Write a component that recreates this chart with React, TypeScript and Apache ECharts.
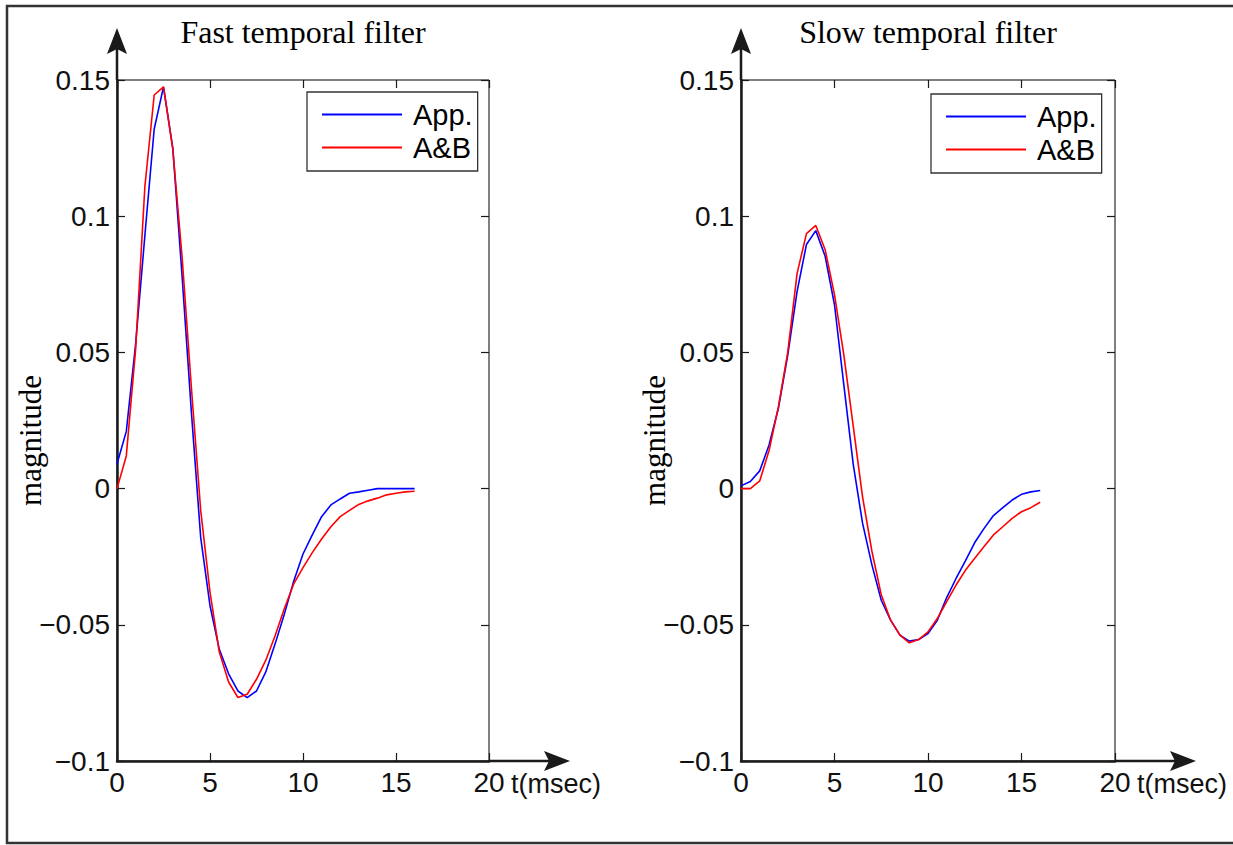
import React, { useEffect, useRef } from 'react';
import * as echarts from 'echarts';

// time samples (msec)
const tSamples = [0, 0.5, 1, 1.5, 2, 2.5, 3, 3.5, 4, 4.5, 5, 5.5, 6, 6.5, 7, 7.5, 8, 8.5, 9, 9.5, 10, 10.5, 11, 11.5, 12, 12.5, 13, 13.5, 14, 14.5, 15, 15.5, 16];

const fastApp = [0.009, 0.021, 0.053, 0.093, 0.132, 0.1475, 0.125, 0.078, 0.028, -0.018, -0.043, -0.059, -0.068, -0.0743, -0.0767, -0.0743, -0.0673, -0.057, -0.046, -0.034, -0.024, -0.017, -0.0103, -0.006, -0.0038, -0.0017, -0.0012, -0.0006, 0, 0, 0, 0, 0];
const fastAB = [0, 0.012, 0.051, 0.111, 0.1445, 0.1475, 0.1245, 0.085, 0.037, -0.008, -0.038, -0.06, -0.071, -0.0767, -0.0755, -0.07, -0.063, -0.054, -0.044, -0.035, -0.029, -0.0235, -0.0185, -0.014, -0.0103, -0.008, -0.0058, -0.0045, -0.0035, -0.0023, -0.0017, -0.0012, -0.001];
const slowApp = [0.001, 0.0026, 0.0065, 0.016, 0.0295, 0.049, 0.0724, 0.0896, 0.0947, 0.0853, 0.0675, 0.038, 0.009, -0.0127, -0.028, -0.041, -0.0483, -0.0538, -0.056, -0.0554, -0.0532, -0.0483, -0.04, -0.033, -0.0265, -0.0198, -0.0146, -0.0099, -0.007, -0.0042, -0.0021, -0.0012, -0.0007];
const slowAB = [0, 0, 0.0028, 0.014, 0.03, 0.05, 0.079, 0.0936, 0.0966, 0.0877, 0.0712, 0.049, 0.023, -0.003, -0.023, -0.039, -0.0483, -0.0538, -0.0566, -0.0554, -0.0526, -0.0477, -0.0415, -0.0354, -0.03, -0.0256, -0.0213, -0.017, -0.014, -0.0109, -0.0085, -0.007, -0.005];

const seriesNames = ['App.', 'A&B'];
const panelTitles = ['Fast temporal filter', 'Slow temporal filter'];
const yAxisTitle = 'magnitude';
const xAxisTitle = 't(msec)';
const xRange = [0, 20, 5];
const yRange = [-0.1, 0.15, 0.05];

const SANS = 'Liberation Sans, Arial, sans-serif';
const SERIF = 'Liberation Serif, Times New Roman, serif';
const INK = '#1a1a1a';

const zip = (xs: number[], ys: number[]) => xs.map((x, i) => [x, ys[i]]);

const fmtY = (v: number) => {
  const r = Math.round(v * 1000) / 1000;
  if (r === 0) return '0';
  return String(r).replace('-', '\u2212');
};

function buildOption() {
  const grids = [
    { left: 117, top: 80, width: 372, height: 681 },
    { left: 741, top: 80, width: 374, height: 681 },
  ];
  const xAxes: any[] = [];
  const yAxes: any[] = [];
  const tick = { show: true, inside: true, length: 8, lineStyle: { color: INK, width: 1.2 } };
  grids.forEach((_, gi) => {
    xAxes.push({
      type: 'value', gridIndex: gi, min: xRange[0], max: xRange[1], interval: xRange[2],
      position: 'bottom',
      axisLine: { show: true, onZero: false, lineStyle: { color: INK, width: 2.5 } },
      axisTick: tick,
      axisLabel: { show: true, fontSize: 28, fontFamily: SANS, color: '#111', margin: 7 },
      splitLine: { show: false },
    });
    xAxes.push({
      type: 'value', gridIndex: gi, min: xRange[0], max: xRange[1], interval: xRange[2],
      position: 'top',
      axisLine: { show: false, onZero: false },
      axisTick: tick,
      axisLabel: { show: false },
      splitLine: { show: false },
    });
    yAxes.push({
      type: 'value', gridIndex: gi, min: yRange[0], max: yRange[1], interval: yRange[2],
      position: 'left',
      axisLine: { show: true, onZero: false, lineStyle: { color: INK, width: 2.5 } },
      axisTick: tick,
      axisLabel: { show: true, fontSize: 28, fontFamily: SANS, color: '#111', margin: 7, formatter: fmtY },
      splitLine: { show: false },
    });
    yAxes.push({
      type: 'value', gridIndex: gi, min: yRange[0], max: yRange[1], interval: yRange[2],
      position: 'right',
      axisLine: { show: false, onZero: false },
      axisTick: tick,
      axisLabel: { show: false },
      splitLine: { show: false },
    });
  });

  const mk = (name: string, data: number[], gi: number, color: string) => ({
    type: 'line', name, data: zip(tSamples, data),
    xAxisIndex: gi * 2, yAxisIndex: gi * 2,
    symbol: 'none', showSymbol: false,
    lineStyle: { color, width: 1.6 }, itemStyle: { color },
    silent: true,
  });

  const legendBase = {
    orient: 'vertical', itemWidth: 80, itemHeight: 2, itemGap: 4,
    icon: 'rect',
    padding: [8, 5, 9, 15],
    borderColor: '#333', borderWidth: 1.3, backgroundColor: '#fff',
    textStyle: { fontSize: 29, fontFamily: SANS, color: '#000', padding: [0, 0, 0, 6] },
    data: seriesNames,
  };

  return {
    animation: false,
    backgroundColor: '#fff',
    grid: grids.map((g) => ({ ...g, show: true, borderColor: '#000', borderWidth: 1, backgroundColor: 'transparent' })),
    xAxis: xAxes,
    yAxis: yAxes,
    legend: [
      { ...legendBase, left: 307, top: 92 },
      { ...legendBase, left: 931, top: 94 },
    ],
    series: [
      mk(seriesNames[0], fastApp, 0, '#0000ff'),
      mk(seriesNames[1], fastAB, 0, '#ff0000'),
      mk(seriesNames[0], slowApp, 1, '#0000ff'),
      mk(seriesNames[1], slowAB, 1, '#ff0000'),
    ],
  };
}

function buildGraphics(chart: any) {
  const els: any[] = [];
  els.push({
    type: 'rect', shape: { x: 7, y: 6, width: 1260, height: 837 },
    style: { fill: 'none', stroke: '#333', lineWidth: 2.5 }, z: 10,
  });
  [0, 1].forEach((gi) => {
    const [x0, yb] = chart.convertToPixel({ gridIndex: gi }, [xRange[0], yRange[0]]);
    const [x1, yt] = chart.convertToPixel({ gridIndex: gi }, [xRange[1], yRange[1]]);
    const tipY = yt - 52;
    const tipX = x1 + 81;
    els.push({ type: 'line', shape: { x1: x0, y1: yt, x2: x0, y2: tipY + 20 }, style: { stroke: INK, lineWidth: 2.5 }, z: 10 });
    els.push({ type: 'polygon', shape: { points: [[x0, tipY], [x0 - 10, tipY + 26], [x0, tipY + 21], [x0 + 10, tipY + 26]] }, style: { fill: INK }, z: 10 });
    els.push({ type: 'line', shape: { x1: x1, y1: yb, x2: tipX - 20, y2: yb }, style: { stroke: INK, lineWidth: 2.5 }, z: 10 });
    els.push({ type: 'polygon', shape: { points: [[tipX, yb], [tipX - 26, yb - 10], [tipX - 21, yb], [tipX - 26, yb + 10]] }, style: { fill: INK }, z: 10 });
    els.push({
      type: 'text', x: (x0 + x1) / 2, y: 32, z: 10,
      style: { text: panelTitles[gi], fontSize: 32, fontFamily: SERIF, fill: '#000', textAlign: 'center', textVerticalAlign: 'middle' },
    });
    els.push({
      type: 'text', x: x0 - 87, y: (yt + yb) / 2 + 20, rotation: Math.PI / 2, z: 10,
      style: { text: yAxisTitle, fontSize: 31, fontFamily: SERIF, fill: '#000', textAlign: 'center', textVerticalAlign: 'middle' },
    });
    els.push({
      type: 'text', x: x1 + 22, y: yb + 23, z: 10,
      style: { text: xAxisTitle, fontSize: 27, fontFamily: SANS, fill: '#111', textAlign: 'left', textVerticalAlign: 'middle' },
    });
  });
  return els;
}

export default function App() {
  const ref = useRef<HTMLDivElement>(null);
  useEffect(() => {
    document.body.style.margin = '0';
    const chart = echarts.init(ref.current as HTMLDivElement, null, { renderer: 'svg' });
    chart.setOption(buildOption() as any);
    chart.setOption({ graphic: buildGraphics(chart) } as any);
    return () => chart.dispose();
  }, []);
  return <div ref={ref} style={{ width: 1233, height: 845 }} />;
}
